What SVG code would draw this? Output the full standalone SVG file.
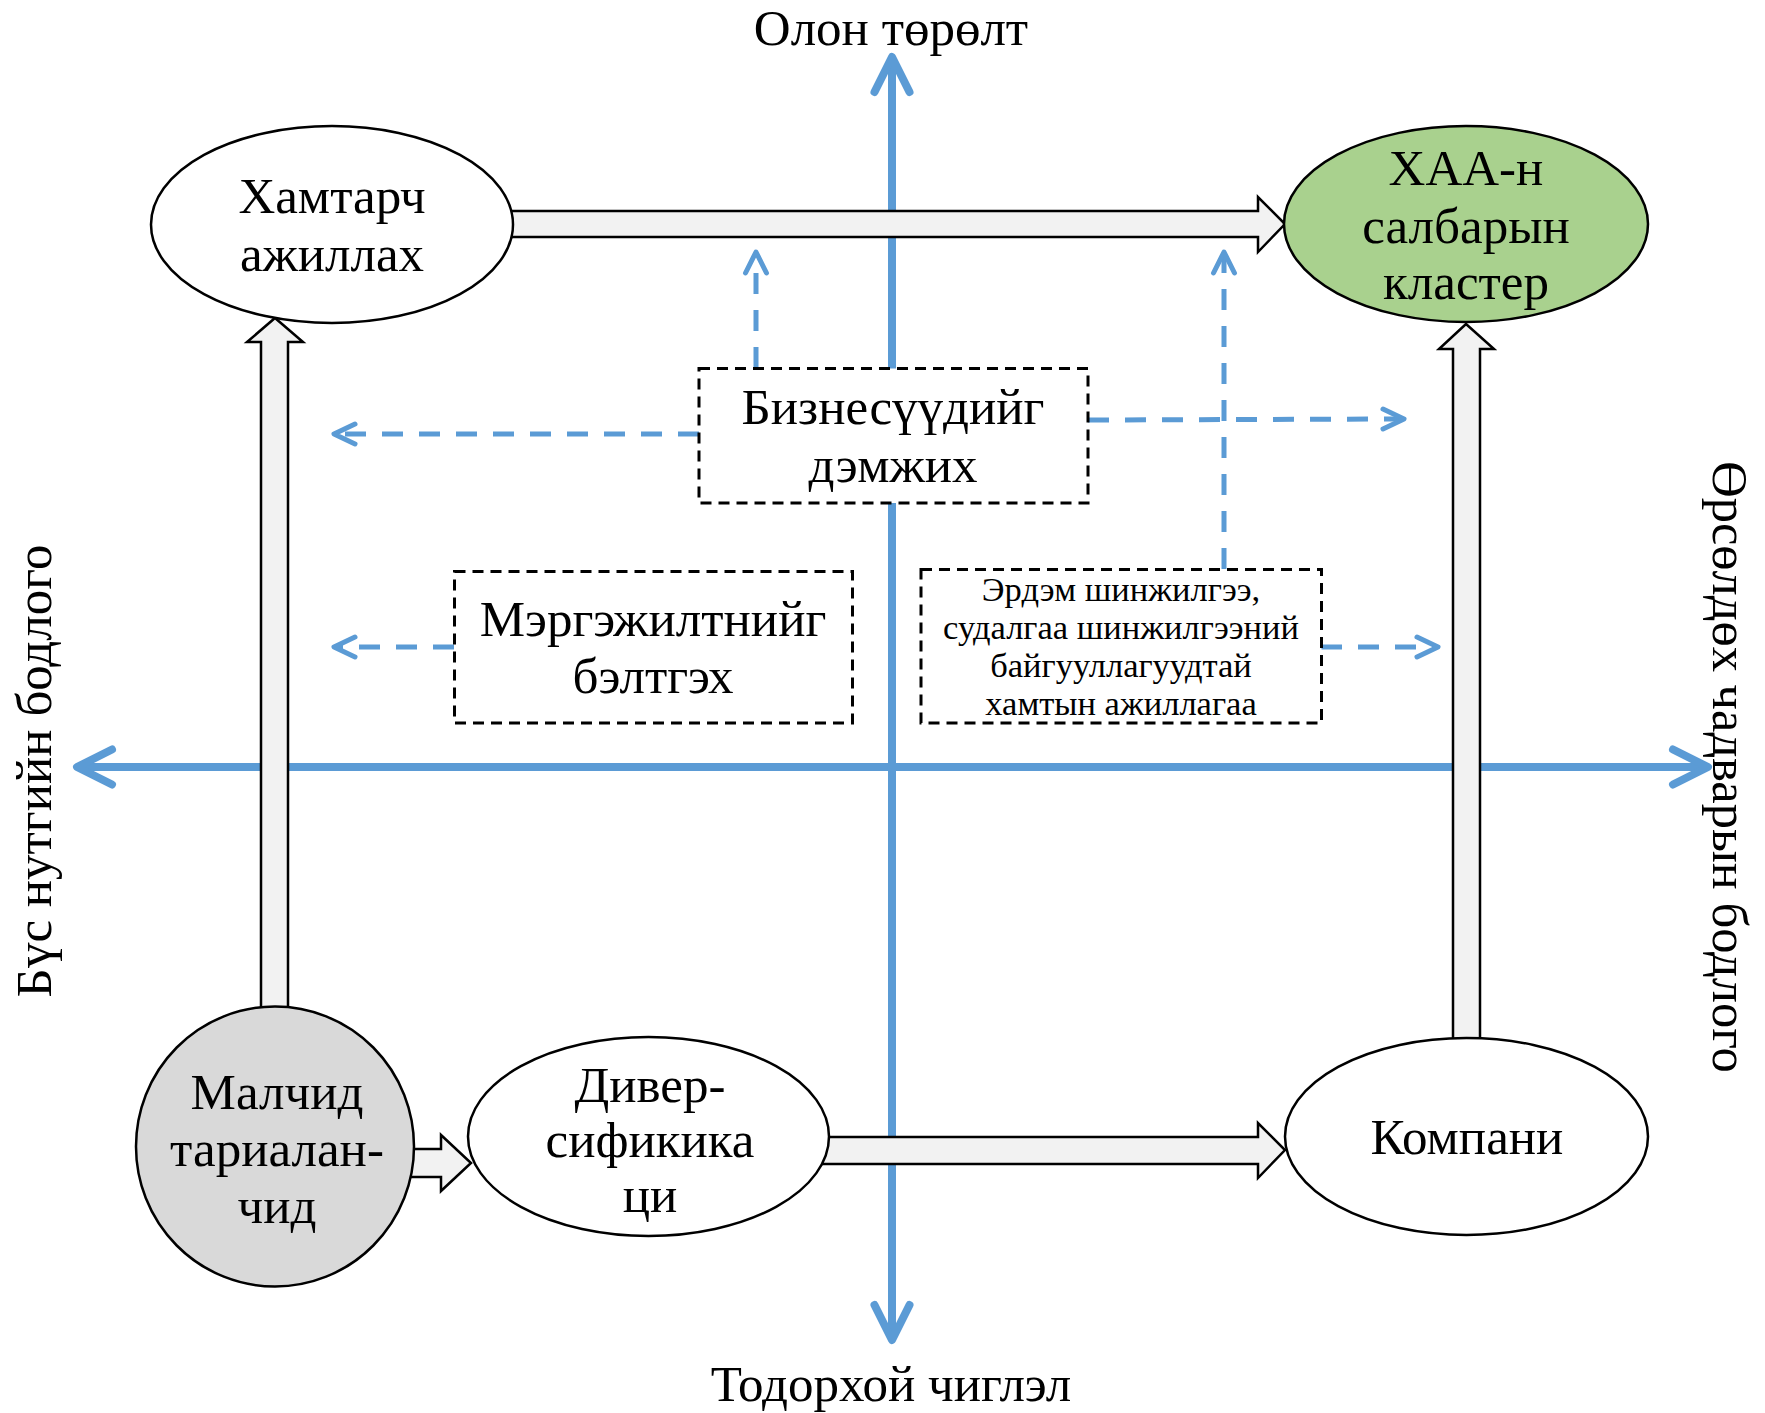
<svg xmlns="http://www.w3.org/2000/svg" width="1765" height="1413" viewBox="0 0 1765 1413">
<style>
.t{font-family:"Liberation Serif","Times New Roman",serif;fill:#000;text-anchor:middle}
.n{font-size:51px}
.s{font-size:34.5px}
.ax{stroke:#5B9BD5;stroke-width:8;fill:none;stroke-linecap:round;stroke-linejoin:round}
.dl{stroke:#5B9BD5;stroke-width:5;fill:none;stroke-dasharray:21 16}
.dh{stroke:#5B9BD5;stroke-width:5;fill:none;stroke-linecap:round;stroke-linejoin:round}
.ba{fill:#F2F2F2;stroke:#000;stroke-width:2.5;stroke-linejoin:miter}
.el{stroke:#000;stroke-width:2.5}
.bx{fill:#fff;stroke:#000;stroke-width:3;stroke-dasharray:11 7}
</style>
<rect width="1765" height="1413" fill="#fff"/>
<g id="axes">
<line class="ax" x1="892" y1="60" x2="892" y2="1336"/>
<polyline class="ax" points="874.5,92 892,57 909.5,92"/>
<polyline class="ax" points="874.5,1305 892,1340 909.5,1305"/>
<line class="ax" x1="80" y1="767" x2="1704" y2="767"/>
<polyline class="ax" points="112,749.5 77,767 112,784.5"/>
<polyline class="ax" points="1673,749.5 1708,767 1673,784.5"/>
</g>
<g id="connectors">
<polygon class="ba" points="490,211 1258,211 1258,197 1285,224 1258,252 1258,237 490,237"/>
<polygon class="ba" points="261,1030 261,342 247,342 275,318 303,342 288,342 288,1030"/>
<polygon class="ba" points="1453,1060 1453,349 1439,349 1466,324 1494,349 1480,349 1480,1060"/>
<polygon class="ba" points="810,1137 1258,1137 1258,1123 1285,1150 1258,1178 1258,1164 810,1164"/>
<polygon class="ba" points="395,1149 441,1149 441,1135 471,1163 441,1191 441,1177 395,1177"/>
<line class="dl" x1="699" y1="434" x2="338" y2="434"/>
<polyline class="dh" points="355,424 334,434 355,444"/>
<line class="dl" x1="1088" y1="420" x2="1400" y2="419"/>
<polyline class="dh" points="1383,409 1404,419 1383,429"/>
<line class="dl" x1="756" y1="368" x2="756" y2="256"/>
<polyline class="dh" points="745.5,273 756,252 766.5,273"/>
<line class="dl" x1="1224" y1="569" x2="1224" y2="256"/>
<polyline class="dh" points="1213.5,273 1224,252 1234.5,273"/>
<line class="dl" x1="454" y1="647" x2="338" y2="647"/>
<polyline class="dh" points="355,637 334,647 355,657"/>
<line class="dl" x1="1321" y1="647" x2="1434" y2="647"/>
<polyline class="dh" points="1417,637 1438,647 1417,657"/>
</g>
<g id="n-hamtarch">
<ellipse class="el" cx="332" cy="224.5" rx="181" ry="98.5" fill="#fff"/>
<text class="t n" x="332" y="213">Хамтарч</text>
<text class="t n" x="332" y="271">ажиллах</text>
</g>
<g id="n-cluster">
<ellipse class="el" cx="1466" cy="224" rx="182" ry="98" fill="#A9D18E"/>
<text class="t n" x="1466" y="185">ХАА-н</text>
<text class="t n" x="1466" y="243">салбарын</text>
<text class="t n" x="1466" y="299">кластер</text>
</g>
<g id="n-company">
<ellipse class="el" cx="1466.5" cy="1136.5" rx="181.5" ry="98.5" fill="#fff"/>
<text class="t n" x="1467" y="1154">Компани</text>
</g>
<g id="n-diver">
<ellipse class="el" cx="648.5" cy="1136.5" rx="180.5" ry="99.5" fill="#fff"/>
<text class="t n" x="650" y="1102">Дивер-</text>
<text class="t n" x="650" y="1157">сификика</text>
<text class="t n" x="650" y="1212">ци</text>
</g>
<g id="n-malchid">
<ellipse class="el" cx="275" cy="1146.5" rx="139" ry="140" fill="#D9D9D9"/>
<text class="t n" x="277" y="1109">Малчид</text>
<text class="t n" x="277" y="1166">тариалан-</text>
<text class="t n" x="277" y="1223">чид</text>
</g>
<g id="n-business">
<rect class="bx" x="699" y="368.5" width="389" height="134.5"/>
<text class="t n" x="893" y="424">Бизнесүүдийг</text>
<text class="t n" x="893" y="482">дэмжих</text>
</g>
<g id="n-mergejil">
<rect class="bx" x="454.5" y="571.5" width="398" height="151.5"/>
<text class="t n" x="653" y="636">Мэргэжилтнийг</text>
<text class="t n" x="653" y="693">бэлтгэх</text>
</g>
<g id="n-erdem">
<rect class="bx" x="921" y="569.5" width="400.5" height="153.5"/>
<text class="t s" x="1121" y="601">Эрдэм шинжилгээ,</text>
<text class="t s" x="1121" y="639">судалгаа шинжилгээний</text>
<text class="t s" x="1121" y="677">байгууллагуудтай</text>
<text class="t s" x="1121" y="715">хамтын ажиллагаа</text>
</g>
<g id="labels">
<text class="t" font-size="51" x="891" y="45">Олон төрөлт</text>
<text class="t" font-size="51" x="891" y="1401">Тодорхой чиглэл</text>
<text class="t" font-size="51" transform="translate(51,771) rotate(-90)">Бүс нутгийн бодлого</text>
<text class="t" font-size="50.5" transform="translate(1713,767) rotate(90)">Өрсөлдөх чадварын бодлого</text>
</g>
</svg>
